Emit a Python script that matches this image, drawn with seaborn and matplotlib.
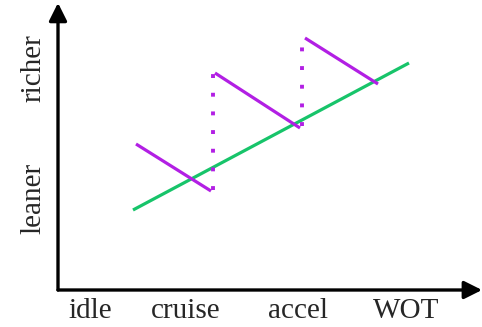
import matplotlib
matplotlib.use("Agg")
import matplotlib.pyplot as plt
import seaborn as sns
import pandas as pd

# Data (arbitrary units: x = load, y = mixture richness)
green_x = [7.5, 35.1]
green_y = [8.0, 22.7]

seg1_x = [7.8, 15.3]
seg1_y = [14.6, 9.9]
seg2_x = [15.7, 24.2]
seg2_y = [21.7, 16.2]
seg3_x = [24.7, 32.0]
seg3_y = [25.2, 20.6]

dot1_x = [15.5, 15.5]
dot1_y = [10.0, 21.6]
dot2_x = [24.4, 24.4]
dot2_y = [16.4, 25.2]

x_tick_pos = [3.2, 12.8, 24.0, 34.8]
x_tick_labels = ["idle", "cruise", "accel", "WOT"]
y_tick_pos = [9.2, 22.2]
y_tick_labels = ["leaner", "richer"]

GREEN = "#17c46a"
MAGENTA = "#b21fe4"

sns.set_theme(style="white")
plt.rcParams["font.family"] = ["Liberation Serif", "DejaVu Serif"]

fig = plt.figure(figsize=(4.82, 3.27), dpi=100)
ax = fig.add_axes([58 / 482, 37 / 327, 424 / 482, 290 / 327])
ax.set_xlim(0, 42.4)
ax.set_ylim(0, 29.0)

sns.lineplot(x=green_x, y=green_y, ax=ax, color=GREEN, linewidth=2.3,
             solid_capstyle="butt")
for sx, sy in [(seg1_x, seg1_y), (seg2_x, seg2_y), (seg3_x, seg3_y)]:
    sns.lineplot(x=sx, y=sy, ax=ax, color=MAGENTA, linewidth=2.3,
                 solid_capstyle="butt")
for dx, dy in [(dot1_x, dot1_y), (dot2_x, dot2_y)]:
    df = pd.DataFrame({"x": dx, "y": dy})
    ax.plot(df["x"], df["y"], color=MAGENTA, linewidth=2.8,
            linestyle=(0, (1, 3.8)), dash_capstyle="butt")

for s in ax.spines.values():
    s.set_visible(False)

# axes with arrows
ax.annotate("", xy=(1.0, 0.0), xytext=(0.0, 0.0), xycoords="axes fraction",
            arrowprops=dict(arrowstyle="-|>,head_length=0.9,head_width=0.45",
                            color="black", lw=2.4, shrinkA=0, shrinkB=0),
            annotation_clip=False)
ax.annotate("", xy=(0.0, 0.99), xytext=(0.0, 0.0), xycoords="axes fraction",
            arrowprops=dict(arrowstyle="-|>,head_length=0.9,head_width=0.45",
                            color="black", lw=2.4, shrinkA=0, shrinkB=0),
            annotation_clip=False)

ax.set_xticks(x_tick_pos)
ax.set_xticklabels(x_tick_labels, fontsize=21)
ax.set_yticks(y_tick_pos)
ax.set_yticklabels(y_tick_labels, fontsize=21, rotation=90, va="center")
ax.tick_params(axis="x", length=0, pad=6)
ax.tick_params(axis="y", length=0, pad=8)
ax.set_xlabel("")
ax.set_ylabel("")

fig.savefig("out.png", dpi=100)
